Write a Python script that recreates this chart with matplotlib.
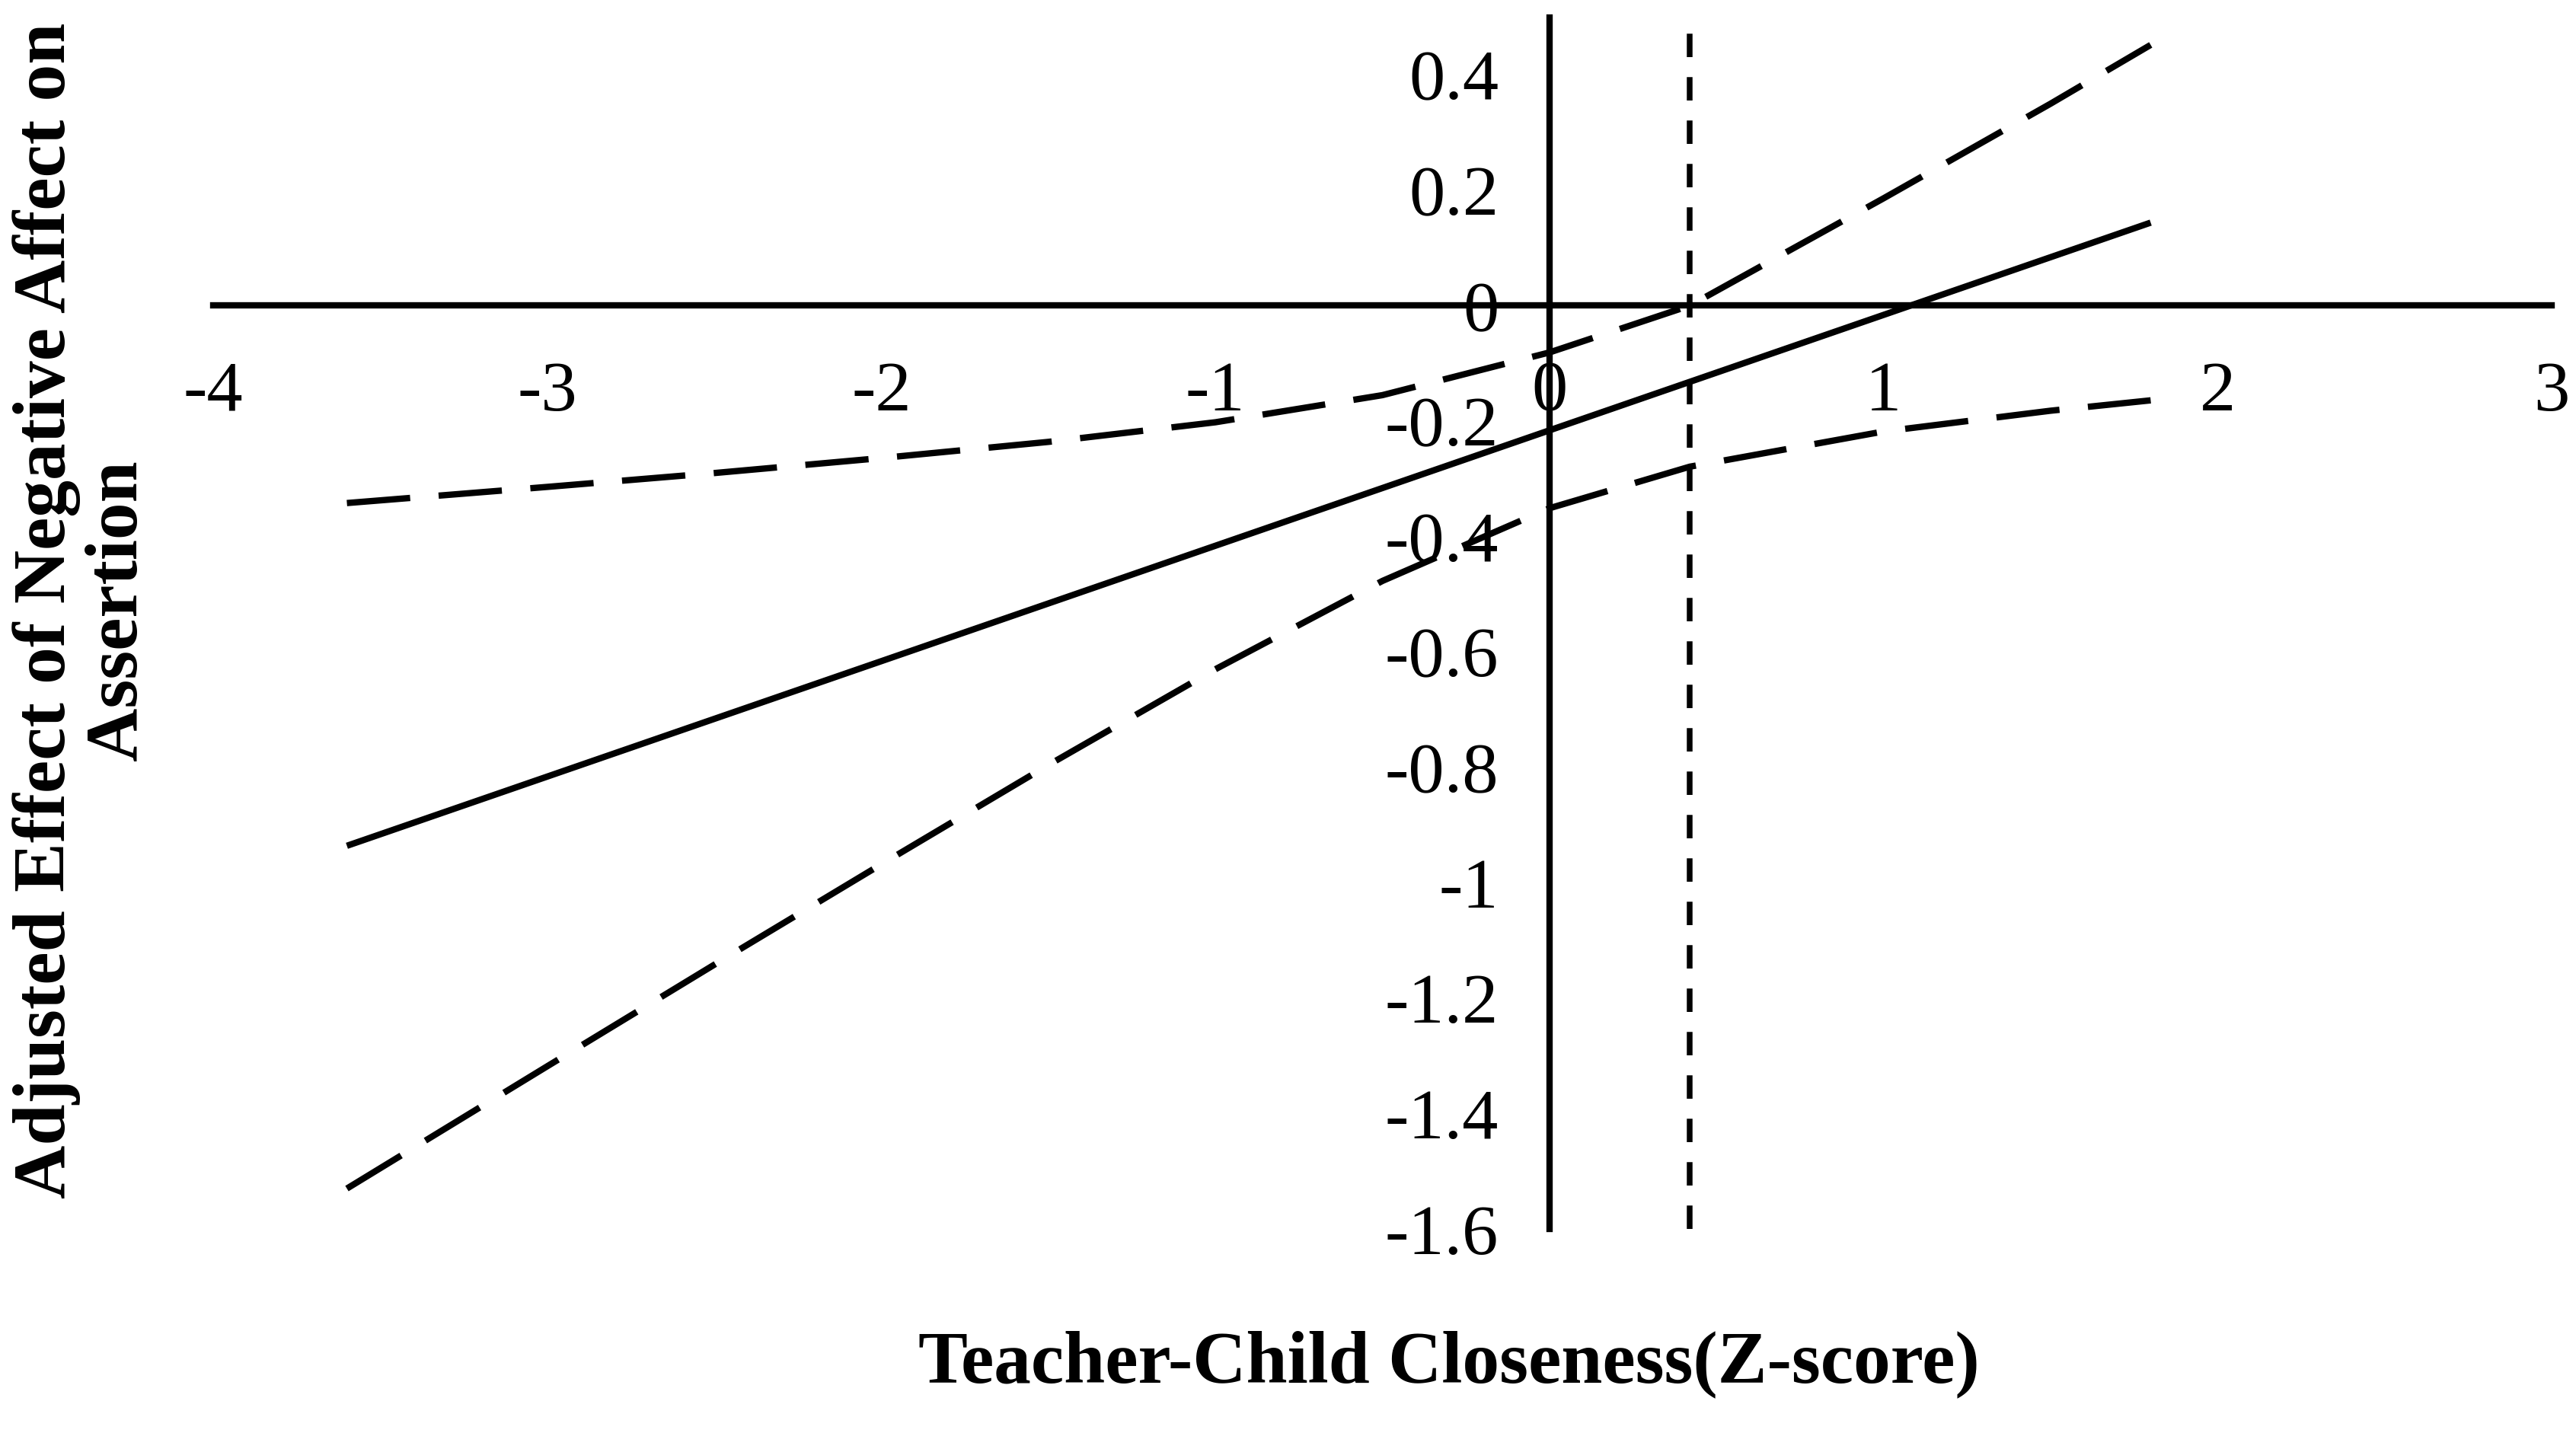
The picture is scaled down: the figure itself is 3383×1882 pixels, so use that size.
import matplotlib.pyplot as plt

# Values
closeness = [-3.6, -3.0, -2.5, -2.0, -1.5, -1.0, -0.5, 0.0, 0.42, 1.0, 1.5, 1.8]
effect = [-0.936, -0.816, -0.716, -0.616, -0.516, -0.416, -0.316, -0.216, -0.132, -0.016, 0.084, 0.144]
upper_ci = [-0.342, -0.314, -0.290, -0.264, -0.236, -0.202, -0.155, -0.081, 0.0, 0.186, 0.350, 0.452]
lower_ci = [-1.530, -1.318, -1.142, -0.968, -0.796, -0.630, -0.477, -0.351, -0.279, -0.218, -0.182, -0.164]
region_line = 0.42

x_ticks = [-4, -3, -2, -1, 0, 1, 2, 3]
x_tick_labels = ["-4", "-3", "-2", "-1", "0", "1", "2", "3"]
y_ticks = [0.4, 0.2, 0, -0.2, -0.4, -0.6, -0.8, -1, -1.2, -1.4, -1.6]
y_tick_labels = ["0.4", "0.2", "0", "-0.2", "-0.4", "-0.6", "-0.8", "-1", "-1.2", "-1.4", "-1.6"]

plt.rcParams["font.family"] = ["Liberation Serif", "DejaVu Serif"]

# Sizing the graph
fig = plt.figure(figsize=(16.915, 9.41), dpi=200)
ax = fig.add_axes([0.0828, 0.1424, 0.9077, 0.8456])

# Plotting the lines
lw = 3.0
ax.plot(closeness, effect, color="black", linewidth=lw, solid_capstyle="butt")
ax.plot(closeness, upper_ci, color="black", linewidth=lw, dashes=(10, 4.5), dash_capstyle="butt")
ax.plot(closeness, lower_ci, color="black", linewidth=lw, dashes=(10, 4.5), dash_capstyle="butt")
ax.plot([region_line, region_line], [-1.6, 0.485], color="black", linewidth=lw * 0.9,
        dashes=(4.1, 3.5), dash_capstyle="butt")

# Axes crossing at zero
ax.set_xlim(-4, 3)
ax.set_ylim(-1.6, 0.5)
ax.spines["left"].set_position(("data", 0))
ax.spines["bottom"].set_position(("data", 0))
ax.spines["right"].set_visible(False)
ax.spines["top"].set_visible(False)
ax.spines["left"].set_linewidth(lw)
ax.spines["bottom"].set_linewidth(lw)

ax.set_xticks(x_ticks)
ax.set_xticklabels(x_tick_labels)
ax.set_yticks(y_ticks)
ax.set_yticklabels(y_tick_labels)
ax.tick_params(axis="x", length=0, pad=26, labelsize=34)
ax.tick_params(axis="y", length=0, pad=24, labelsize=34)

# Labelling
fig.text(0.5625, 0.048, "Teacher-Child Closeness(Z-score)", fontsize=35,
         fontweight="bold", ha="center", va="center")
fig.text(0.032, 0.574, "Adjusted Effect of Negative Affect on\nAssertion", fontsize=35,
         fontweight="bold", ha="center", va="center", rotation=90, linespacing=1.08)

fig.savefig("out.png", dpi=200)
